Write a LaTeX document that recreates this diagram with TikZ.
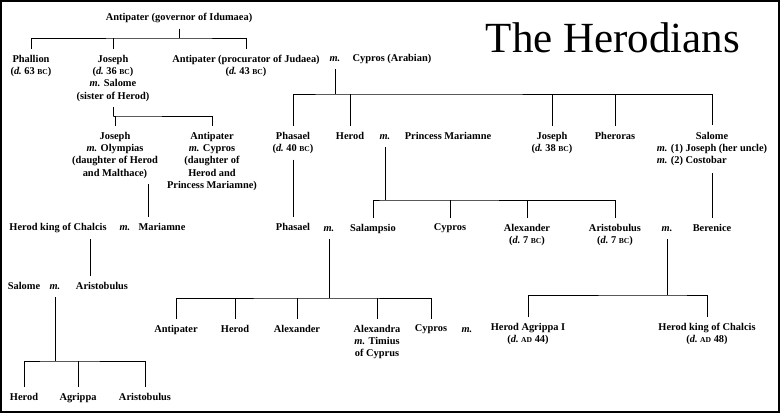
\documentclass[tikz,border=0pt]{standalone}
\usepackage{fontspec}
\setmainfont{Liberation Serif}
\usepackage{tikz}
\usetikzlibrary{positioning, calc}
\newcommand{\wed}{\textit{m.}}
\newcommand{\era}[1]{{\fontsize{7.6}{9}\selectfont #1}}
\newcommand{\died}[1]{(\textit{d.}~#1)}
\tikzset{
    tree/.style={x=1pt, y=-1pt, line width=0.8pt, font=\fontsize{10.4}{12.3}\selectfont\bfseries},
    person/.style={anchor=north, align=center, inner sep=0pt, outer sep=6pt},
    % the "m." between two spouses, its line drops from here
    spouse/.style={anchor=north, inner sep=0pt, outer sep=6pt, text height=7pt, text depth=2pt},
    frame/.style={line width=2pt},
}

\begin{document}
\begin{tikzpicture}[tree]
    \useasboundingbox (0,0) rectangle (780,413);
    \draw[frame] (1,1) rectangle (779,412);

    \node[anchor=base, font=\fontsize{43}{50}\selectfont] (title) at (613,52) {The Herodians};

    % first generations
    \node[person] (ant0) at (179,7) {Antipater (governor of Idumaea)};
    \node[person] (phal) at (31,49) {Phallion\\\died{63 \era{BC}}};
    \node[person] (jos1) at (113,49) {Joseph\\\died{36 \era{BC}}\\\wed{} Salome\\(sister of Herod)};
    \node[person] (antP) at (246,49) {Antipater (procurator of Judaea)\\\died{43 \era{BC}}};
    \node[spouse] (m0) at (335,48) {\wed};
    \node[person] (cyp0) at (392,48) {Cypros (Arabian)};

    \coordinate (b0) at (179,38);
    \draw (ant0.south) -- (b0);
    \draw (phal.north) |- (b0) -| (antP.north);
    \draw (jos1.north) -- (jos1.north |- b0);

    \node[person] (jos2) at (115,126) {Joseph\\\wed{} Olympias\\(daughter of Herod\\and Malthace)};
    \node[person] (antC) at (212,126) {Antipater\\\wed{} Cypros\\(daughter of\\Herod and\\Princess Mariamne)};

    \coordinate (b1) at (113,116);
    \draw (jos1.south) -- (b1);
    \draw (jos2.north) |- (b1) -| (antC.north);

    \node[person] (pha1) at (293,126) {Phasael\\\died{40 \era{BC}}};
    \node[person] (her) at (350,126) {Herod};
    \node[spouse] (m1) at (385,126) {\wed};
    \node[person] (pmar) at (448,126) {Princess Mariamne};
    \node[person] (jos3) at (552,126) {Joseph\\\died{38 \era{BC}}};
    \node[person] (pher) at (615,126) {Pheroras};
    \node[person] (sal1) at (712,124.5) {\begin{tabular}{@{}l@{}}\multicolumn{1}{@{}c@{}}{Salome}\\
        \wed{} (1) Joseph (her uncle)\\\wed{} (2) Costobar\end{tabular}};

    \coordinate (b2) at (337,94);
    \draw (m0.south) -- (m0.south |- b2);
    \draw (pha1.north) |- (b2) -| (sal1.north);
    \foreach \c in {her, jos3, pher}
        \draw (\c.north) -- (\c.north |- b2);

    % third row
    \node[person] (hkc1) at (58,217) {Herod king of Chalcis};
    \node[spouse] (m2) at (125,217) {\wed};
    \node[person] (mar) at (162,217) {Mariamne};
    \node[person] (pha2) at (293,217) {Phasael};
    \node[spouse] (m3) at (329,218) {\wed};
    \node[person] (salm) at (373,218) {Salampsio};
    \node[person] (cyp1) at (450,218) {Cypros};
    \node[person] (alex1) at (527,218) {Alexander\\\died{7 \era{BC}}};
    \node[person] (aris1) at (615,218) {Aristobulus\\\died{7 \era{BC}}};
    \node[spouse] (m4) at (667,218) {\wed};
    \node[person] (ber) at (712,218) {Berenice};

    \draw ([xshift=-14]mar.north) -- ([xshift=-14]mar.north |- jos2.south);
    \draw (pha1.south) -- (pha2.north);
    \draw (sal1.south) -- (ber.north);

    \coordinate (b3) at (385,200);
    \draw (m1.south) -- (b3);
    \draw (salm.north) |- (b3) -| (aris1.north);
    \foreach \c in {cyp1, alex1}
        \draw (\c.north) -- (\c.north |- b3);

    \node[person] (sal2) at (24,276) {Salome};
    \node[spouse] (m5) at (55,276) {\wed};
    \node[person] (aris2) at (102,276) {Aristobulus};

    \draw ([xshift=-12]aris2.north) -- ([xshift=-12]aris2.north |- hkc1.south);

    % children of Phasael and of Aristobulus
    \node[person] (antp2) at (176,319) {Antipater};
    \node[person] (her2) at (235,319) {Herod};
    \node[person] (alex2) at (297,319) {Alexander};
    \node[person] (alexa) at (377,319) {Alexandra\\\wed{} Timius\\of Cyprus};
    \node[person] (cyp2) at (431,319) {Cypros};
    \node[spouse] (m6) at (467,319) {\wed};
    \node[person] (hagr) at (528,317) {Herod Agrippa I\\\died{\era{AD} 44}};
    \node[person] (hkc2) at (707,317) {Herod king of Chalcis\\\died{\era{AD} 48}};

    \coordinate (b4) at (329,298);
    \draw (m3.south) -- (b4);
    \draw (antp2.north) |- (b4) -| (cyp2.north);
    \foreach \c in {her2, alex2, alexa}
        \draw (\c.north) -- (\c.north |- b4);

    \coordinate (b5) at (667,295);
    \draw (m4.south) -- (b5);
    \draw (hagr.north) |- (b5) -| (hkc2.north);

    \node[person] (her3) at (24,387) {Herod};
    \node[person] (agr) at (78,387) {Agrippa};
    \node[person] (aris3) at (145,387) {Aristobulus};

    \coordinate (b6) at (55,361);
    \draw (m5.south) -- (b6);
    \draw (her3.north) |- (b6) -| (aris3.north);
    \draw (agr.north) -- (agr.north |- b6);

\end{tikzpicture}
\end{document}
